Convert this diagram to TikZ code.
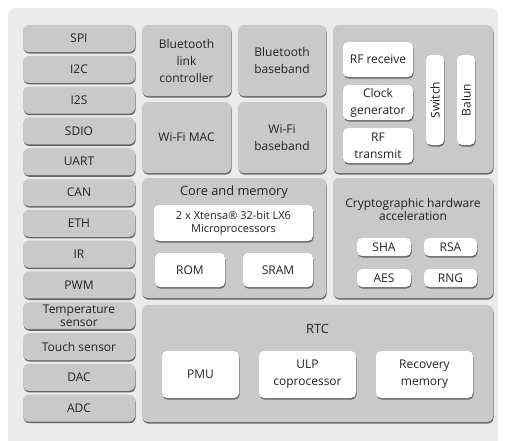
\documentclass[tikz,border=0pt]{standalone}
\usepackage{fontspec}
\setmainfont{Open Sans}
\usetikzlibrary{shadows}
\definecolor{panelbg}{HTML}{EBEBEB}
\definecolor{boxgray}{HTML}{C9C9C9}
\definecolor{shadowgray}{HTML}{666666}
\definecolor{txtgray}{HTML}{222222}

\begin{document}
\begin{tikzpicture}[x=1pt,y=1pt,yscale=-1,xscale=1,
  font=\fontsize{12}{17}\selectfont, text=txtgray,
  shade/.style={drop shadow={shadow xshift=0.6pt,shadow yshift=-1.6pt,fill=shadowgray,opacity=1}},
  gbox/.style={shade, fill=boxgray, rounded corners=6pt, inner sep=0pt, align=center},
  wbox/.style={shade, fill=white, rounded corners=5pt, inner sep=0pt, align=center},
  side/.style={gbox, minimum width=112pt, minimum height=27pt}
  ]
  \useasboundingbox (0,0) rectangle (505,440);
  %background panel
  \fill[panelbg, rounded corners=7pt] (8,8) rectangle (498,452);

  %left column
  \node[side] (spi) at (79,38.5) {SPI};
  \node[side] (itwoc) at (79,69.3) {I2C};
  \node[side] (itwos) at (79,100.1) {I2S};
  \node[side] (sdio) at (79,130.9) {SDIO};
  \node[side] (uart) at (79,161.7) {UART};
  \node[side] (can) at (79,192.5) {CAN};
  \node[side] (eth) at (79,223.3) {ETH};
  \node[side] (ir) at (79,254.1) {IR};
  \node[side] (pwm) at (79,284.9) {PWM};
  \node[side, font=\fontsize{12}{13}\selectfont] (temp) at (79,315.7) {Temperature\\sensor};
  \node[side] (touch) at (79,346.5) {Touch sensor};
  \node[side] (dac) at (79,377.3) {DAC};
  \node[side] (adc) at (79,408.1) {ADC};

  %wireless blocks
  \node[gbox, minimum width=89pt, minimum height=71pt] (btlink) at (186.5,60.5) {Bluetooth\\link\\controller};
  \node[gbox, minimum width=88pt, minimum height=71pt] (btbase) at (282,60.5) {Bluetooth\\baseband};
  \node[gbox, minimum width=89pt, minimum height=71pt] (wifimac) at (186.5,137.5) {Wi-Fi MAC};
  \node[gbox, minimum width=88pt, minimum height=71pt] (wifibase) at (282,137.5) {Wi-Fi\\baseband};

  %radio
  \node[gbox, minimum width=160pt, minimum height=148pt] (radio) at (413,99) {};
  \node[wbox, minimum width=70pt, minimum height=35pt] (rfrx) at (378,59.5) {RF receive};
  \node[wbox, minimum width=70pt, minimum height=35pt] (clkgen) at (378,102.5) {Clock\\generator};
  \node[wbox, minimum width=70pt, minimum height=35pt] (rftx) at (378,145.5) {RF\\transmit};
  \node[wbox, minimum width=90pt, minimum height=18pt, rotate=90] (switch) at (435,100) {Switch};
  \node[wbox, minimum width=90pt, minimum height=18pt, rotate=90] (balun) at (466,100) {Balun};

  %core and memory
  \node[gbox, minimum width=184pt, minimum height=120pt] (core) at (234,238) {};
  \node[font=\fontsize{12.8}{15}\selectfont] (coretitle) at (234,192.5) {Core and memory};
  \node[wbox, minimum width=159pt, minimum height=36pt, font=\fontsize{11}{13}\selectfont] (cpu) at (233.5,223) {2 x Xtensa® 32-bit LX6\\Microprocessors};
  \node[wbox, minimum width=70pt, minimum height=34pt] (rom) at (190,270) {ROM};
  \node[wbox, minimum width=70pt, minimum height=34pt] (sram) at (278,270) {SRAM};

  %crypto
  \node[gbox, minimum width=160pt, minimum height=120pt] (crypto) at (413,238) {};
  \node[align=center, font=\fontsize{12}{13.5}\selectfont] (cryptotitle) at (413,209.5) {Cryptographic hardware\\acceleration};
  \node[wbox, minimum width=54pt, minimum height=18pt] (sha) at (384,247) {SHA};
  \node[wbox, minimum width=53pt, minimum height=18pt] (rsa) at (450.5,247) {RSA};
  \node[wbox, minimum width=54pt, minimum height=18pt] (aes) at (384,278) {AES};
  \node[wbox, minimum width=53pt, minimum height=18pt] (rng) at (450.5,278) {RNG};

  %rtc
  \node[gbox, minimum width=351pt, minimum height=117pt] (rtc) at (317.5,363.5) {};
  \node[font=\fontsize{12.8}{15}\selectfont] (rtctitle) at (317.5,329) {RTC};
  \node[wbox, minimum width=77pt, minimum height=47pt] (pmu) at (200.5,374.5) {PMU};
  \node[wbox, minimum width=97pt, minimum height=47pt] (ulp) at (307.5,374.5) {ULP\\coprocessor};
  \node[wbox, minimum width=97pt, minimum height=47pt] (recmem) at (424.5,374.5) {Recovery\\memory};
\end{tikzpicture}
\end{document}
